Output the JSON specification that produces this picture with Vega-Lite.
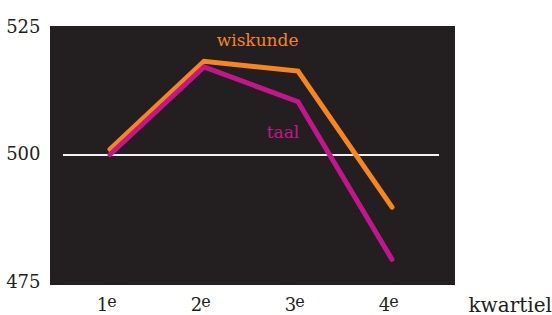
{
  "$schema": "https://vega.github.io/schema/vega-lite/v6.json",
  "autosize": {"type": "none"},
  "width": 405,
  "height": 259,
  "padding": {"left": 50, "top": 26, "right": 97, "bottom": 30},
  "background": "white",
  "config": {
    "view": {"fill": "#231f20", "stroke": null},
    "font": "DejaVu Serif"
  },
  "datasets": {
    "scores": [
      {"kwartiel": 1, "score": 501.1, "vak": "wiskunde"},
      {"kwartiel": 2, "score": 518.3, "vak": "wiskunde"},
      {"kwartiel": 3, "score": 516.4, "vak": "wiskunde"},
      {"kwartiel": 4, "score": 489.8, "vak": "wiskunde"},
      {"kwartiel": 1, "score": 500.1, "vak": "taal"},
      {"kwartiel": 2, "score": 517.2, "vak": "taal"},
      {"kwartiel": 3, "score": 510.4, "vak": "taal"},
      {"kwartiel": 4, "score": 479.6, "vak": "taal"}
    ],
    "ref": [{"start": 0.5, "end": 4.5, "score": 500}],
    "labels": [
      {"label": "wiskunde", "kwartiel": 2.57, "score": 522.2, "vak": "wiskunde"},
      {"label": "taal", "kwartiel": 2.84, "score": 504.2, "vak": "taal"}
    ],
    "sup": [
      {"kwartiel": 1, "score": 474.6, "sup": "e"},
      {"kwartiel": 2, "score": 474.6, "sup": "e"},
      {"kwartiel": 3, "score": 474.6, "sup": "e"},
      {"kwartiel": 4, "score": 474.6, "sup": "e"}
    ]
  },
  "layer": [
    {
      "data": {"name": "ref"},
      "mark": {"type": "rule", "color": "#f2f2f2", "strokeWidth": 2},
      "encoding": {
        "x": {"field": "start", "type": "quantitative", "scale": {"domain": [0.362, 4.67], "nice": false, "zero": false},
          "axis": {"values": [1, 2, 3, 4], "format": "d", "domain": false, "ticks": false, "grid": false,
            "labelFontSize": 18, "labelColor": "#231f20", "labelPadding": 11, "labelOffset": -8,
            "title": "kwartiel", "titleFontSize": 20, "titleFontWeight": "normal", "titleColor": "#231f20",
            "titleAnchor": "start", "titleAlign": "left", "titleX": 418, "titleY": 26, "titleBaseline": "alphabetic"}},
        "x2": {"field": "end"},
        "y": {"field": "score", "type": "quantitative", "scale": {"domain": [474.6, 525.2], "nice": false, "zero": false},
          "axis": {"values": [475, 500, 525], "domain": false, "ticks": false, "grid": false,
            "labelFontSize": 18, "labelColor": "#231f20", "labelPadding": 10, "title": null}}
      }
    },
    {
      "data": {"name": "scores"},
      "mark": {"type": "line", "strokeWidth": 5, "strokeCap": "round", "strokeJoin": "miter"},
      "encoding": {
        "x": {"field": "kwartiel", "type": "quantitative"},
        "y": {"field": "score", "type": "quantitative"},
        "color": {"field": "vak", "type": "nominal", "scale": {"domain": ["wiskunde", "taal"], "range": ["#f7861f", "#c3168b"]}, "legend": null}
      }
    },
    {
      "data": {"name": "labels"},
      "mark": {"type": "text", "fontSize": 17, "baseline": "middle", "align": "center"},
      "encoding": {
        "x": {"field": "kwartiel", "type": "quantitative"},
        "y": {"field": "score", "type": "quantitative"},
        "text": {"field": "label"},
        "color": {"field": "vak", "type": "nominal", "legend": null}
      }
    },
    {
      "data": {"name": "sup"},
      "mark": {"type": "text", "fontSize": 16, "baseline": "alphabetic", "align": "center", "dx": 2, "dy": 22, "color": "#231f20"},
      "encoding": {
        "x": {"field": "kwartiel", "type": "quantitative"},
        "y": {"field": "score", "type": "quantitative"},
        "text": {"field": "sup"}
      }
    }
  ]
}
